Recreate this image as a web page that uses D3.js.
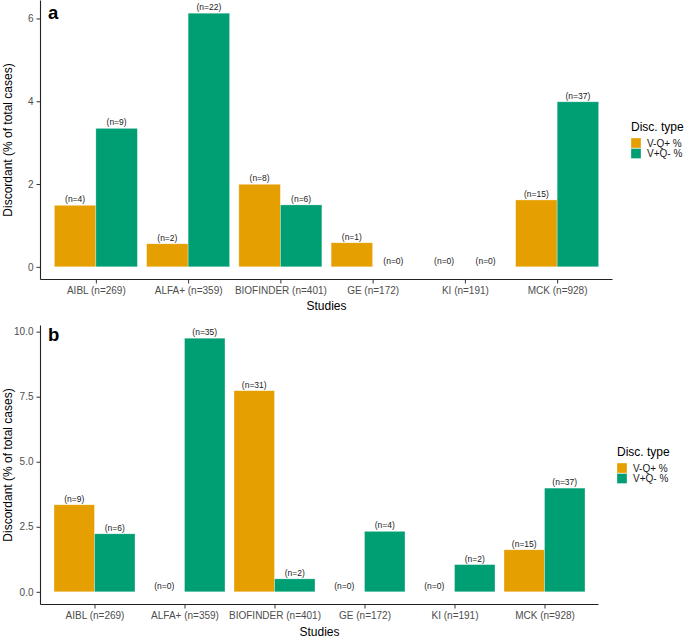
<!DOCTYPE html>
<html><head><meta charset="utf-8">
<script src="https://cdn.jsdelivr.net/npm/d3@7"></script>
<style>body{margin:0;background:#fff}svg{display:block}text{font-family:"Liberation Sans",Arial,sans-serif}</style>
</head><body>
<script>
const studies = ["AIBL (n=269)","ALFA+ (n=359)","BIOFINDER (n=401)","GE (n=172)","KI (n=191)","MCK (n=928)"];
const types = ["V-Q+ %","V+Q- %"];
const colors = ["#E69F00","#009E73"];
// Panel a
const aVQ = [1.487, 0.557, 1.995, 0.581, 0, 1.616];
const aVQn = ["(n=4)","(n=2)","(n=8)","(n=1)","(n=0)","(n=15)"];
const aQV = [3.346, 6.128, 1.496, 0, 0, 3.987];
const aQVn = ["(n=9)","(n=22)","(n=6)","(n=0)","(n=0)","(n=37)"];
const aTicks = [0, 2, 4, 6];
// Panel b
const bVQ = [3.346, 0, 7.731, 0, 0, 1.616];
const bVQn = ["(n=9)","(n=0)","(n=31)","(n=0)","(n=0)","(n=15)"];
const bQV = [2.230, 9.749, 0.499, 2.326, 1.047, 3.987];
const bQVn = ["(n=6)","(n=35)","(n=2)","(n=4)","(n=2)","(n=37)"];
const bTicks = [0, 2.5, 5, 7.5, 10];

const svg = d3.select("body").append("svg").attr("width",685).attr("height",639);

function panel(cfg){
  const g = svg.append("g");
  const maxV = d3.max(cfg.series.flat());
  const ext = maxV*0.05;
  const y = d3.scaleLinear().domain([-ext, maxV+ext]).range([cfg.bottom, cfg.top]);
  const x = d3.scalePoint().domain(studies).range([cfg.left, cfg.right]).padding(0.6);
  const step = x.step();
  const bw = step*0.45;
  cfg.series.forEach((vals, si) => {
    const data = studies.map((s,i)=>({s, v: vals[i], lab: cfg.labels[si][i]}));
    const xo = d => x(d.s) - step*0.45 + si*bw;
    g.selectAll(null).data(data.filter(d=>d.v>0)).enter().append("rect")
      .attr("x", xo).attr("width", bw)
      .attr("y", d=>y(d.v)).attr("height", d=>y(0)-y(d.v))
      .attr("fill", colors[si]).attr("stroke","rgba(255,255,255,0.55)").attr("stroke-width",0.6);
    g.selectAll(null).data(data).enter().append("text")
      .attr("x", d=>xo(d)+bw/2).attr("y", d=>y(d.v)-3)
      .attr("text-anchor","middle").attr("font-size","8.5px").attr("fill","#1a1a1a")
      .text(d=>d.lab);
  });
  // axes
  const ya = g.append("g").attr("transform",`translate(${cfg.left},0)`)
    .call(d3.axisLeft(y).tickValues(cfg.ticks).tickSize(4).tickPadding(3).tickFormat(cfg.fmt));
  const xa = g.append("g").attr("transform",`translate(0,${cfg.bottom})`)
    .call(d3.axisBottom(x).tickSize(4).tickPadding(3));
  [ya, xa].forEach(a=>{
    a.select(".domain").attr("stroke","#222").attr("stroke-width",1.1);
    a.selectAll(".tick line").attr("stroke","#333");
    a.selectAll(".tick text").attr("fill","#4D4D4D").attr("font-size","10px").style("font-family","Liberation Sans, Arial, sans-serif");
  });
  ya.select(".domain").attr("d",`M0,${cfg.bottom}V${cfg.top}`);
  xa.select(".domain").attr("d",`M${cfg.left},0H${cfg.right}`);
  // titles
  g.append("text").attr("x",(cfg.left+cfg.right)/2).attr("y",cfg.bottom+cfg.studiesDy)
    .attr("text-anchor","middle").attr("font-size","12px").attr("fill","#000").text("Studies");
  g.append("text").attr("transform",`translate(12,${(cfg.top+cfg.bottom)/2}) rotate(-90)`)
    .attr("text-anchor","middle").attr("font-size","12px").attr("fill","#000").text("Discordant (% of total cases)");
  g.append("text").attr("x",cfg.left+7.5).attr("y",cfg.top+cfg.letterDy)
    .attr("font-size","18.5px").attr("font-weight","bold").attr("fill","#000").text(cfg.letter);
  // legend
  const lg = g.append("g").attr("transform",`translate(${cfg.legX},${cfg.legY})`);
  lg.append("text").attr("x",0).attr("y",0).attr("font-size","12px").attr("fill","#000").text("Disc. type");
  types.forEach((t,i)=>{
    lg.append("rect").attr("x",0).attr("y",7+i*10.5).attr("width",10).attr("height",10)
      .attr("fill",colors[i]).attr("stroke","rgba(255,255,255,0.55)").attr("stroke-width",0.6);
    lg.append("text").attr("x",16).attr("y",15.5+i*10.5).attr("font-size","10px").attr("fill","#1a1a1a").text(t);
  });
}

panel({series:[aVQ,aQV], labels:[aVQn,aQVn], ticks:aTicks, fmt:d3.format("d"),
  left:40.5, right:612.5, top:0.5, bottom:279.5, letter:"a", letterDy:18.5, legX:631, legY:131, studiesDy:30});
panel({series:[bVQ,bQV], labels:[bVQn,bQVn], ticks:bTicks, fmt:d3.format(".1f"),
  left:40.5, right:598.5, top:325.5, bottom:604.5, letter:"b", letterDy:15.5, legX:617, legY:456, studiesDy:31.5});
</script>
</body></html>
